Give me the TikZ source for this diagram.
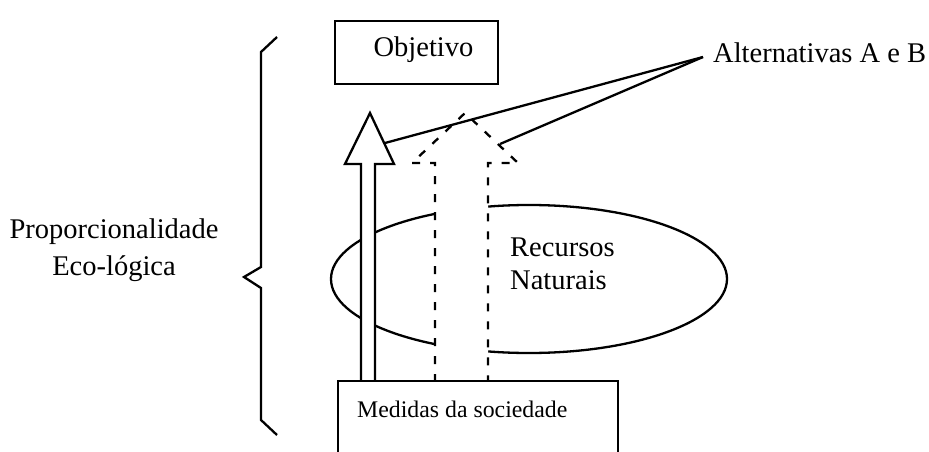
\documentclass[tikz,border=0pt]{standalone}
\usepackage{fontspec}
\setmainfont{Liberation Serif}
\usetikzlibrary{shapes.geometric}
\tikzset{
  ln/.style={line width=2.3pt, line join=miter},
  boxst/.style={draw, line width=2.3pt, fill=white, inner sep=0pt},
  txt/.style={inner sep=0pt, font=\fontsize{28.5}{37}\selectfont},
  dsh/.style={dash pattern=on 8pt off 10pt},
}
\begin{document}
\begin{tikzpicture}[x=1pt,y=-1pt]
\useasboundingbox (0,0) rectangle (929,452);
\clip (0,0) rectangle (929,452);
% ellipse
\node[ellipse, draw, line width=2.3pt, minimum width=396pt, minimum height=148pt, inner sep=0pt] (eco) at (529,279) {};
% solid arrow
\draw[ln, fill=white] (361,382) -- (361,164) -- (345,164) -- (370,113) coordinate (tipA) -- (394,164) -- (375,164) -- (375,382);
% dashed arrow
\draw[ln, dsh, fill=white] (435,382) -- (435,163) -- (412,163) -- (465,113) coordinate (tipB) -- (518,163) -- (488,163) -- (488,382);
% pointer lines
\coordinate (altp) at (703,57);
\coordinate (ha) at (385,143);
\coordinate (hb) at (500,144);
\draw[ln] (altp) -- (ha);
\draw[ln] (altp) -- (hb);
% boxes
\node[boxst, minimum width=280pt, minimum height=100pt, anchor=north west] (med) at (337,380) {};
\node[boxst, minimum width=163pt, minimum height=63pt, anchor=north west] (obj) at (334,20) {};
% brace
\draw[ln] (277,37) -- (261,52) -- (261,267) -- (244,277) -- (261,288) -- (261,420) -- (277,435);
% texts
\node[txt, anchor=base] (objt) at (423.5,57) {Objetivo};
\node[txt, anchor=base west] (alt) at (713,63) {Alternativas A e B};
\node[txt, align=center] (prop) at (114,250) {Proporcionalidade\\Eco-lógica};
\node[txt, align=left, anchor=west, font=\fontsize{28.5}{33}\selectfont] (rec) at (510,264) {Recursos\\Naturais};
\node[inner sep=0pt, anchor=base west, font=\fontsize{23.8}{28}\selectfont] (medt) at (357,417) {Medidas da sociedade};
\end{tikzpicture}
\end{document}
